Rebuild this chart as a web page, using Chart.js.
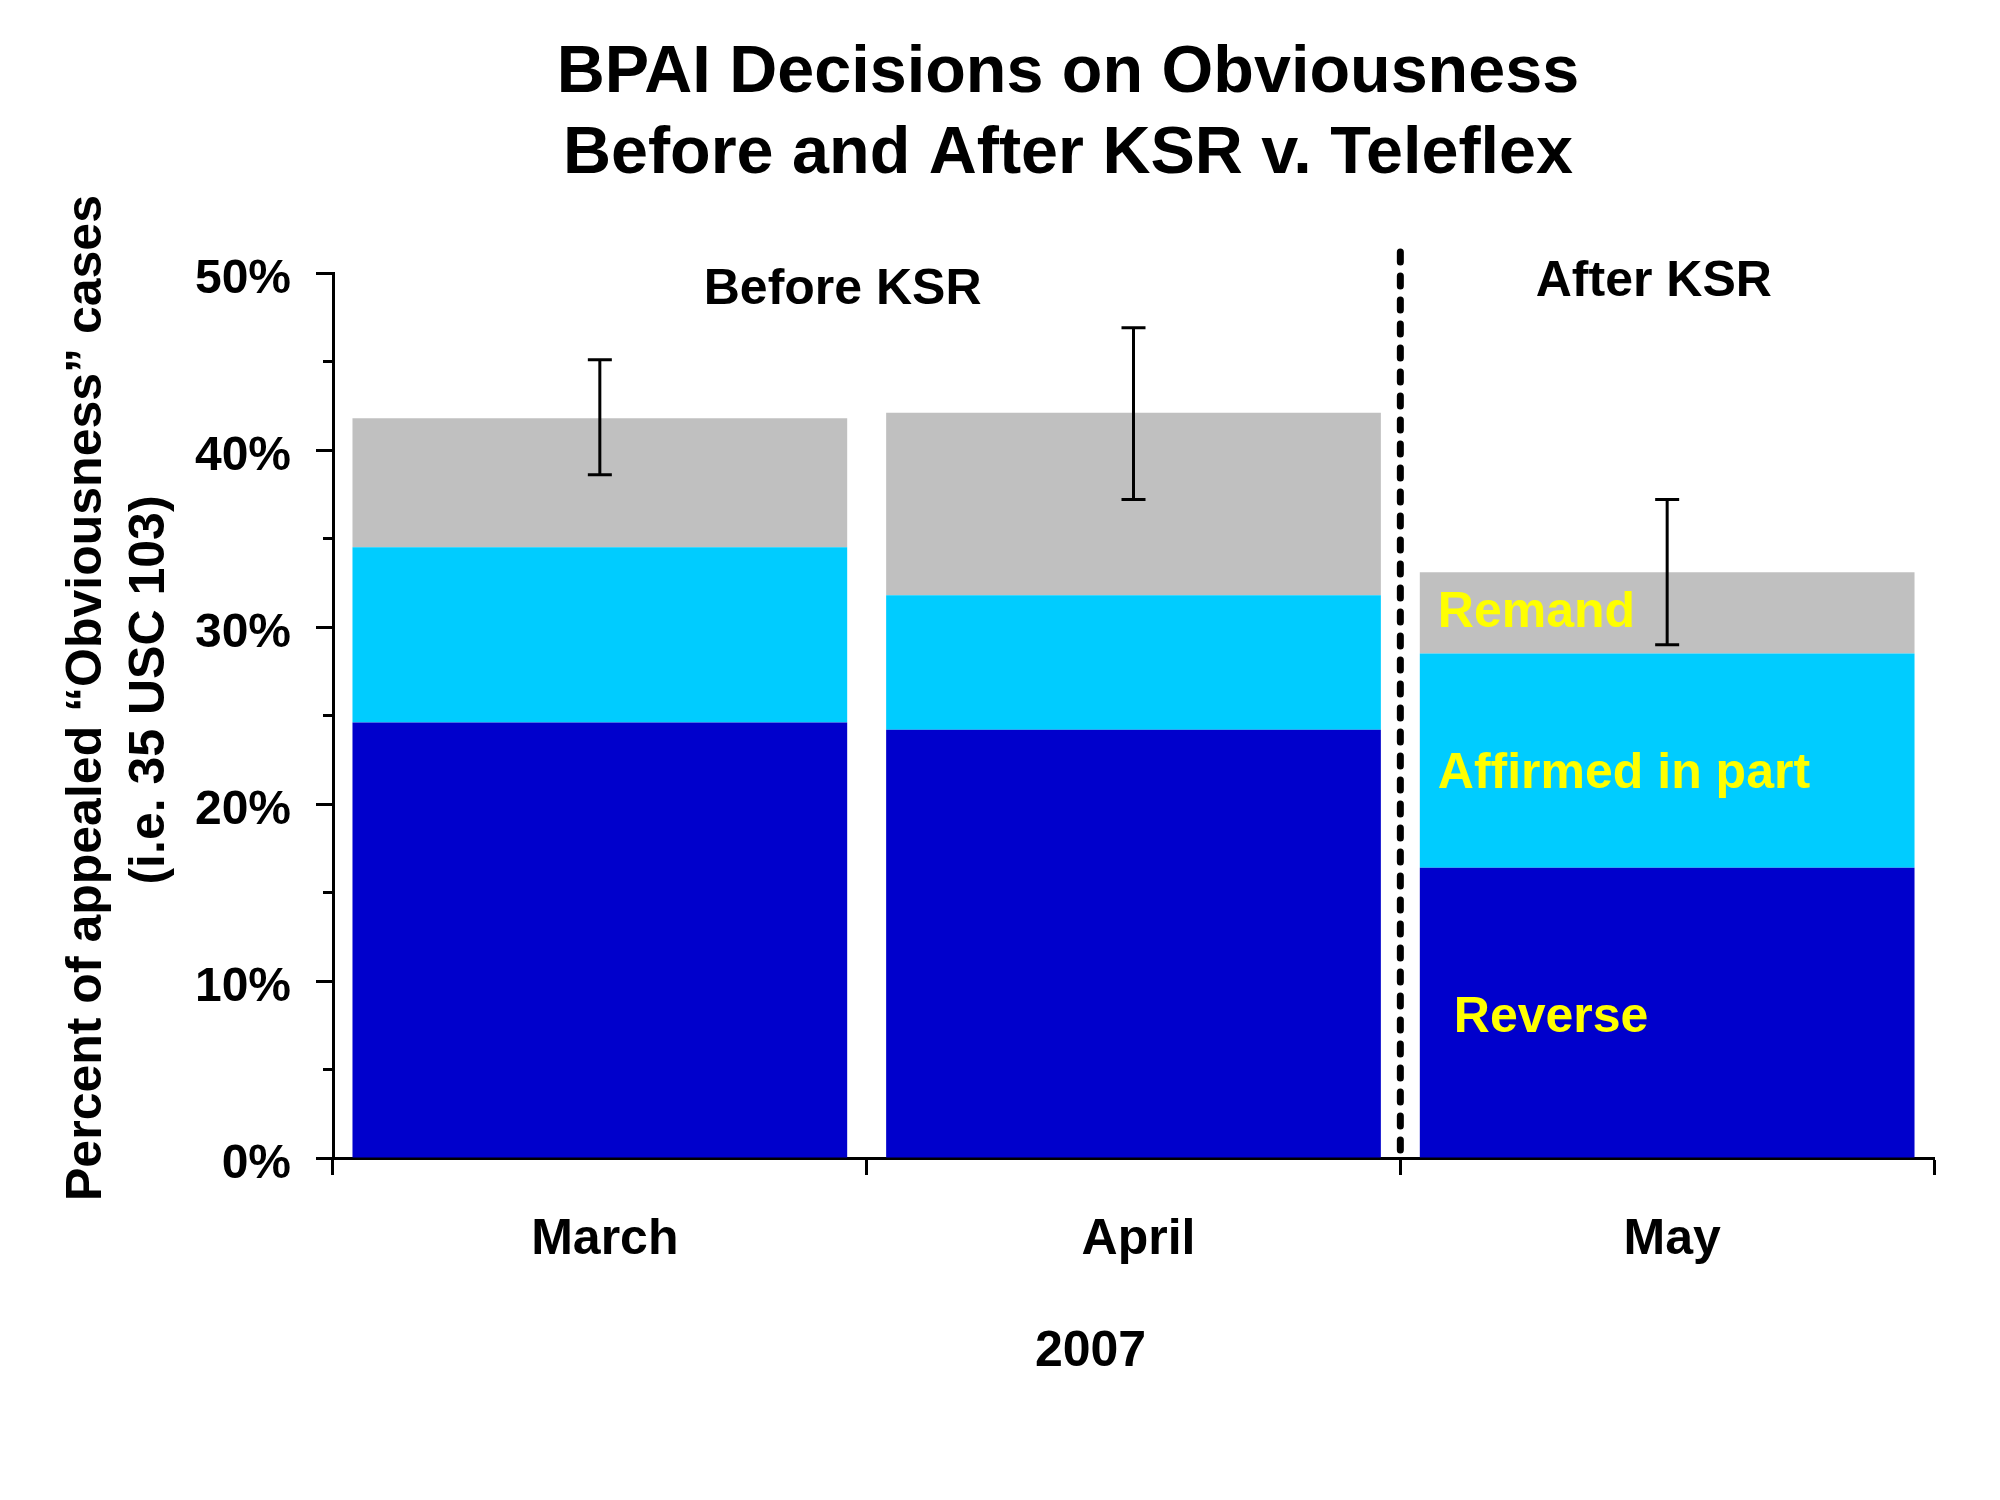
<!DOCTYPE html>
<html>
<head>
<meta charset="utf-8">
<script src="https://cdn.jsdelivr.net/npm/chart.js@4.4.1/dist/chart.umd.min.js"></script>
<style>
  body { margin: 0; background: #fff; }
  canvas { display: block; }
</style>
</head>
<body>
<canvas id="myChart" width="2000" height="1500"></canvas>
<script>
// Data (percent of appealed cases)
const months = ['March', 'April', 'May'];
const reverse = [24.6, 24.2, 16.4];
const affirmedInPart = [9.9, 7.6, 12.1];
const remand = [7.3, 10.3, 4.6];
const errLow = [38.6, 37.2, 29.0];
const errHigh = [45.1, 46.9, 37.2];
const yTicks = [0, 10, 20, 30, 40, 50];
const minorTicks = [5, 15, 25, 35, 45];

const FONT = '"Liberation Sans", Arial, sans-serif';
Chart.defaults.color = '#000';
Chart.defaults.font.family = FONT;

// title, axis title, error bars, minor ticks, separator and text labels
const extras = {
  id: 'extras',
  afterDatasetsDraw(chart) {
    const ctx = chart.ctx;
    const x = chart.scales.x, y = chart.scales.y;
    ctx.save();
    ctx.strokeStyle = '#000';

    // minor ticks on y axis
    ctx.lineWidth = 3;
    minorTicks.forEach(v => {
      const py = y.getPixelForValue(v);
      ctx.beginPath();
      ctx.moveTo(y.right - 10, py);
      ctx.lineTo(y.right, py);
      ctx.stroke();
    });

    // error bars
    months.forEach((m, i) => {
      const px = x.getPixelForValue(i);
      const lo = y.getPixelForValue(errLow[i]);
      const hi = y.getPixelForValue(errHigh[i]);
      ctx.beginPath();
      ctx.moveTo(px, lo); ctx.lineTo(px, hi);
      ctx.moveTo(px - 12, lo); ctx.lineTo(px + 12, lo);
      ctx.moveTo(px - 12, hi); ctx.lineTo(px + 12, hi);
      ctx.stroke();
    });

    // dotted separator between April and May
    const sepX = (x.getPixelForValue(1) + x.getPixelForValue(2)) / 2;
    ctx.setLineDash([10, 14]);
    ctx.lineCap = 'round';
    ctx.lineWidth = 7;
    ctx.beginPath();
    ctx.moveTo(sepX, y.getPixelForValue(0) - 8);
    ctx.lineTo(sepX, y.getPixelForValue(51.5));
    ctx.stroke();
    ctx.setLineDash([]);

    // chart title
    ctx.fillStyle = '#000';
    ctx.textAlign = 'center';
    ctx.textBaseline = 'middle';
    ctx.font = 'bold 66.5px ' + FONT;
    ctx.fillText('BPAI Decisions on Obviousness', 1068, 74);
    ctx.fillText('Before and After KSR v. Teleflex', 1068, 155);

    // y axis title
    ctx.font = 'bold 50px ' + FONT;
    ctx.save();
    ctx.translate(87, 698);
    ctx.rotate(-Math.PI / 2);
    ctx.fillText('Percent of appealed \u201cObviousness\u201d cases', 0, 0);
    ctx.restore();
    ctx.save();
    ctx.translate(150, 690);
    ctx.rotate(-Math.PI / 2);
    ctx.fillText('(i.e. 35 USC 103)', 0, 0);
    ctx.restore();

    // period labels
    ctx.fillText('Before KSR', x.getPixelForValue(0.455), y.getPixelForValue(49.0));
    ctx.fillText('After KSR', x.getPixelForValue(1.975), y.getPixelForValue(49.5));

    // year under the months
    ctx.fillText('2007', x.getPixelForValue(1) - 43, 1352);

    // segment labels on the May bar
    const meta = chart.getDatasetMeta(0).data[2];
    const barLeft = meta.x - meta.width / 2;
    ctx.fillStyle = '#FFFF00';
    ctx.textAlign = 'left';
    const r = reverse[2], a = affirmedInPart[2], rm = remand[2];
    ctx.fillText('Remand', barLeft + 18, y.getPixelForValue(r + a + rm / 2));
    ctx.fillText('Affirmed in part', barLeft + 18, y.getPixelForValue(r + a / 2 - 0.75));
    ctx.fillText('Reverse', barLeft + 34, y.getPixelForValue(r / 2 - 0.3));
    ctx.restore();
  }
};

const ctx = document.getElementById('myChart').getContext('2d');

const data = {
  labels: months,
  datasets: [
    { label: 'Reverse', data: reverse, backgroundColor: '#0000CC' },
    { label: 'Affirmed in part', data: affirmedInPart, backgroundColor: '#00CCFF' },
    { label: 'Remand', data: remand, backgroundColor: '#C0C0C0' }
  ]
};

const config = {
  type: 'bar',
  data: data,
  plugins: [extras],
  options: {
    responsive: false,
    animation: false,
    barPercentage: 0.927,
    categoryPercentage: 1,
    layout: { padding: { left: 0, right: 66, top: 273, bottom: 0 } },
    plugins: {
      legend: { display: false },
      tooltip: { enabled: false },
      title: { display: false }
    },
    scales: {
      x: {
        stacked: true,
        grid: { drawOnChartArea: false, tickLength: 17, tickWidth: 3, tickColor: '#000', offset: true },
        border: { color: '#000', width: 3 },
        ticks: { font: { size: 50, weight: 'bold' }, padding: 35, labelOffset: 5 },
        afterFit: scale => { scale.height = 342; }
      },
      y: {
        stacked: true,
        min: 0,
        max: 50,
        afterBuildTicks: scale => { scale.ticks = yTicks.map(v => ({ value: v })); },
        grid: { drawOnChartArea: false, tickLength: 17, tickWidth: 3, tickColor: '#000' },
        border: { color: '#000', width: 3 },
        ticks: { font: { size: 48, weight: 'bold' }, padding: 25, labelOffset: 7, callback: v => v + '%' },
        afterFit: scale => { scale.width = 333; }
      }
    }
  }
};

new Chart(ctx, config);
</script>
</body>
</html>
